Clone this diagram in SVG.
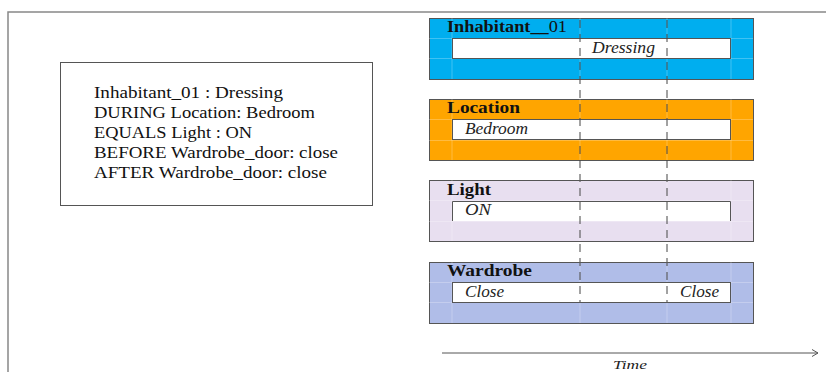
<svg xmlns="http://www.w3.org/2000/svg" width="826" height="372" viewBox="0 0 826 372">
<defs>
<style>
.frame{fill:none;stroke:#888;stroke-width:1.5}
.band{stroke:#555;stroke-width:1}
.inner{fill:#fff;stroke:#555;stroke-width:1}
.grid{stroke:#fff;stroke-opacity:0.25;stroke-width:1;fill:none}
.title{font-family:"Liberation Serif","DejaVu Serif",serif;font-size:17px;font-weight:bold;fill:#111}
.val{font-family:"Liberation Serif","DejaVu Serif",serif;font-size:16px;font-style:italic;fill:#222}
.rule{font-family:"Liberation Serif","DejaVu Serif",serif;font-size:17px;fill:#111}
.dash{stroke:#444;stroke-width:1;stroke-dasharray:8 6}
.axis{stroke:#555;stroke-width:1;fill:none}
</style>
<marker id="arr" markerWidth="10" markerHeight="10" refX="7" refY="5" orient="auto" markerUnits="userSpaceOnUse">
<path d="M1,1.5 L7,5 L1,8.5" fill="none" stroke="#555" stroke-width="1"/>
</marker>
</defs>
<rect width="826" height="372" fill="#fff"/>
<path class="frame" d="M8,372 L8,12 L826,12"/>

<g id="rules">
<rect x="60.5" y="62.5" width="312" height="143" fill="#fff" stroke="#555" stroke-width="1"/>
<text class="rule" x="94" y="98" textLength="189" lengthAdjust="spacingAndGlyphs">Inhabitant_01 : Dressing</text>
<text class="rule" x="94" y="118" textLength="221" lengthAdjust="spacingAndGlyphs">DURING Location: Bedroom</text>
<text class="rule" x="94" y="138" textLength="158" lengthAdjust="spacingAndGlyphs">EQUALS Light : ON</text>
<text class="rule" x="94" y="158" textLength="244" lengthAdjust="spacingAndGlyphs">BEFORE Wardrobe_door: close</text>
<text class="rule" x="94" y="178" textLength="233" lengthAdjust="spacingAndGlyphs">AFTER Wardrobe_door: close</text>
</g>

<g id="inhabitant">
<rect class="band" x="429.5" y="18.5" width="324" height="61" fill="#00AEEF"/>
<path class="grid" d="M452,18 V79 M580,18 V79 M667,18 V79 M731,18 V79 M429,38.5 H753 M429,58.5 H753"/>
<rect class="inner" x="452.5" y="38.5" width="278" height="20"/>
<text class="title" x="447" y="32" textLength="120" lengthAdjust="spacingAndGlyphs">Inhabitant__<tspan font-weight="normal">01</tspan></text>
<text class="val" x="592" y="53" textLength="63" lengthAdjust="spacingAndGlyphs">Dressing</text>
</g>

<g id="location">
<rect class="band" x="429.5" y="99.5" width="324" height="61" fill="#FFA500"/>
<path class="grid" d="M452,99 V160 M580,99 V160 M667,99 V160 M731,99 V160 M429,119.5 H753 M429,140.5 H753"/>
<rect class="inner" x="452.5" y="119.5" width="278" height="20"/>
<text class="title" x="447" y="113" textLength="73" lengthAdjust="spacingAndGlyphs">Location</text>
<text class="val" x="465" y="134" textLength="63" lengthAdjust="spacingAndGlyphs">Bedroom</text>
</g>

<g id="light">
<rect class="band" x="429.5" y="180.5" width="324" height="61" fill="#E8DFF0"/>
<path class="grid" d="M452,180 V241 M580,180 V241 M667,180 V241 M731,180 V241 M429,200.5 H753 M429,221.5 H753"/>
<rect x="452.5" y="201" width="278" height="20" fill="#fff"/>
<path d="M452.5,221 V201.5 H730.5 V221" fill="none" stroke="#555" stroke-width="1"/>
<text class="title" x="447" y="195" textLength="44" lengthAdjust="spacingAndGlyphs">Light</text>
<text class="val" x="465" y="215" textLength="26" lengthAdjust="spacingAndGlyphs">ON</text>
</g>

<g id="wardrobe">
<rect class="band" x="429.5" y="262.5" width="324" height="61" fill="#B0BDE8"/>
<path class="grid" d="M452,262 V323 M580,262 V323 M667,262 V323 M731,262 V323 M429,282.5 H753 M429,302.5 H753"/>
<rect class="inner" x="452.5" y="282.5" width="278" height="20"/>
<text class="title" x="447" y="276" textLength="85" lengthAdjust="spacingAndGlyphs">Wardrobe</text>
<text class="val" x="465" y="297" textLength="39" lengthAdjust="spacingAndGlyphs">Close</text>
<text class="val" x="680" y="297" textLength="39" lengthAdjust="spacingAndGlyphs">Close</text>
</g>

<g id="connectors">
<line class="dash" x1="580" y1="20" x2="580" y2="302"/>
<line class="dash" x1="667" y1="20" x2="667" y2="302"/>
<line class="axis" x1="442" y1="353" x2="818" y2="353" marker-end="url(#arr)"/>
<text x="613" y="369" textLength="34" lengthAdjust="spacingAndGlyphs" font-family="Liberation Serif, DejaVu Serif, serif" font-size="13" font-style="italic" fill="#222">Time</text>
</g>
</svg>
